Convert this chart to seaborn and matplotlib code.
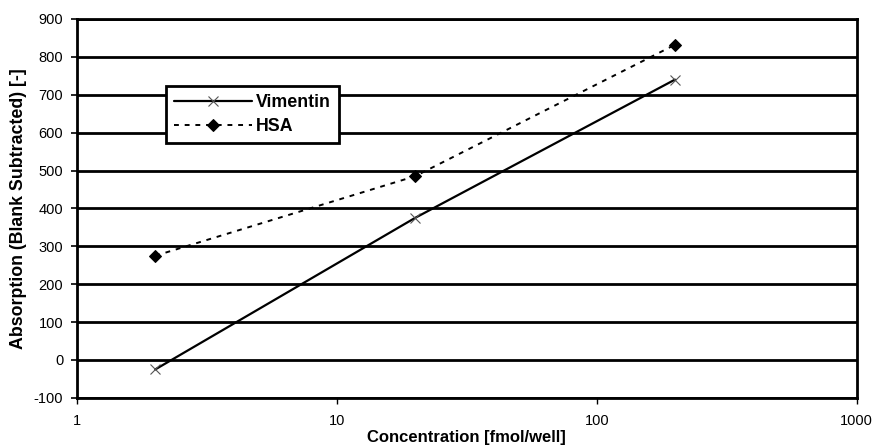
import matplotlib
matplotlib.use("Agg")
import matplotlib.pyplot as plt
import seaborn as sns

# Data
concentration = [2, 20, 200]
vimentin = [-25, 375, 740]
hsa = [275, 485, 832]

sns.set_style("white")
plt.rcParams["font.family"] = ["Liberation Sans", "DejaVu Sans"]
plt.rcParams["axes.unicode_minus"] = False
plt.rcParams["text.color"] = "black"
plt.rcParams["axes.labelcolor"] = "black"
plt.rcParams["xtick.color"] = "black"
plt.rcParams["ytick.color"] = "black"

fig = plt.figure(figsize=(8.96, 4.47), dpi=100)
ax = fig.add_axes([0.086, 0.11, 0.870, 0.8475])

sns.lineplot(x=concentration, y=vimentin, color="black", linewidth=1.6,
             marker="x", markersize=7, markeredgecolor="#555555",
             markeredgewidth=0.8, label="Vimentin", ax=ax)
sns.lineplot(x=concentration, y=hsa, color="black", linewidth=1.4,
             linestyle=(0, (2.5, 3)), marker="D", markersize=6,
             markeredgecolor="black", label="HSA", ax=ax)

ax.set_xscale("log")
ax.set_xlim(1, 1000)
ax.set_ylim(-100, 900)
ax.set_yticks(range(-100, 901, 100))
ax.set_xticks([1, 10, 100, 1000])
ax.set_xticklabels(["1", "10", "100", "1000"])
ax.minorticks_off()
ax.yaxis.grid(True, color="black", linewidth=2)
ax.set_axisbelow(True)
for s in ax.spines.values():
    s.set_color("black")
    s.set_linewidth(2)

ax.tick_params(axis="y", length=4, width=1.2, labelsize=10.5, pad=6, left=True)
ax.tick_params(axis="x", length=4, width=1, labelsize=10.5, pad=8, bottom=True)
ax.set_xlabel("Concentration [fmol/well]", fontsize=12, fontweight="bold", labelpad=1)
ax.set_ylabel("Absorption (Blank Subtracted) [-]", fontsize=12.8, fontweight="bold", labelpad=5)

leg = ax.legend(loc="upper left", bbox_to_anchor=(0.114, 0.823), frameon=True,
                fancybox=False, fontsize=12.8, handlelength=4.4, borderpad=0.45,
                labelspacing=0.4, handletextpad=0.2, borderaxespad=0,
                framealpha=1)
leg.get_frame().set_edgecolor("black")
leg.get_frame().set_linewidth(2)
for t in leg.get_texts():
    t.set_fontweight("bold")

fig.savefig("out.png", dpi=100)
